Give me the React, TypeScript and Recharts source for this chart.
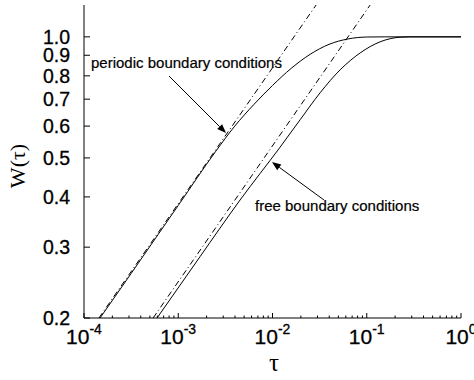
import React from 'react';
import { LineChart, Line, XAxis, YAxis, Customized } from 'recharts';

// tau / W(tau)
const periodicSolid = [
  { t: 1.48e-4, w: 0.2 },
  { t: 3.16e-4, w: 0.258 },
  { t: 1.0e-3, w: 0.381 },
  { t: 2.51e-3, w: 0.52 },
  { t: 3.98e-3, w: 0.6 },
  { t: 6.31e-3, w: 0.678 },
  { t: 0.01, w: 0.757 },
  { t: 0.0158, w: 0.835 },
  { t: 0.0251, w: 0.905 },
  { t: 0.0398, w: 0.958 },
  { t: 0.0631, w: 0.988 },
  { t: 0.1, w: 0.999 },
  { t: 0.158, w: 1.0 },
  { t: 1, w: 1.0 },
];
const periodicFit = [
  { t: 1.44e-4, w: 0.2 },
  { t: 0.029, w: 1.2 },
];
const freeSolid = [
  { t: 5.96e-4, w: 0.2 },
  { t: 1.7e-3, w: 0.284 },
  { t: 4.53e-3, w: 0.393 },
  { t: 0.01205, w: 0.532 },
  { t: 0.01963, w: 0.622 },
  { t: 0.032, w: 0.726 },
  { t: 0.0522, w: 0.828 },
  { t: 0.0851, w: 0.912 },
  { t: 0.1387, w: 0.972 },
  { t: 0.2264, w: 0.998 },
  { t: 0.289, w: 1.0 },
  { t: 1, w: 1.0 },
];
const freeFit = [
  { t: 5.41e-4, w: 0.2 },
  { t: 0.1086, w: 1.2 },
];

const xMajorTicks = [1e-4, 1e-3, 1e-2, 1e-1, 1];
const xMajorExp = ['-4', '-3', '-2', '-1', '0'];
const xMinorTicks = [
  2e-4, 3e-4, 4e-4, 5e-4, 6e-4, 7e-4, 8e-4, 9e-4,
  2e-3, 3e-3, 4e-3, 5e-3, 6e-3, 7e-3, 8e-3, 9e-3,
  2e-2, 3e-2, 4e-2, 5e-2, 6e-2, 7e-2, 8e-2, 9e-2,
  0.2, 0.3, 0.4, 0.5, 0.6, 0.7, 0.8, 0.9,
];
const yTicks = [0.2, 0.3, 0.4, 0.5, 0.6, 0.7, 0.8, 0.9, 1.0];
const yTickLabels = ['0.2', '0.3', '0.4', '0.5', '0.6', '0.7', '0.8', '0.9', '1.0'];

const allXTicks = [...xMajorTicks, ...xMinorTicks].sort((a, b) => a - b);
const SANS = '"Liberation Sans", Arial, Helvetica, sans-serif';
const SERIF = '"Liberation Serif", "Times New Roman", serif';

const majorIndex = (v: number) => xMajorTicks.findIndex((m) => Math.abs(m - v) / m < 1e-6);

const BottomTick = (props: any) => {
  const { x, y, payload } = props;
  const i = majorIndex(payload.value);
  const major = i >= 0;
  return (
    <g>
      <line x1={x} x2={x} y1={y} y2={y - (major ? 5 : 2.5)} stroke="#000" strokeWidth={1} />
      {major && (
        <text x={x} y={y + 26} textAnchor="middle" fontFamily={SANS} fill="#000" stroke="#000" strokeWidth={0.3}>
          <tspan fontSize={21}>10</tspan>
          <tspan fontSize={14} dy={-10}>{xMajorExp[i]}</tspan>
        </text>
      )}
    </g>
  );
};

const TopTick = (props: any) => {
  const { x, y, payload } = props;
  const major = majorIndex(payload.value) >= 0;
  return <line x1={x} x2={x} y1={y} y2={y + (major ? 5 : 2.5)} stroke="#000" strokeWidth={1} />;
};

const LeftTick = (props: any) => {
  const { x, y, payload, index } = props;
  const i = yTicks.findIndex((v) => Math.abs(v - payload.value) < 1e-6);
  return (
    <g>
      <line x1={x} x2={x + 6} y1={y} y2={y} stroke="#000" strokeWidth={1} />
      <text x={x - 14} y={y} dy="0.36em" textAnchor="end" fontSize={19.5} fontFamily={SANS} fill="#000" stroke="#000" strokeWidth={0.3}>
        {yTickLabels[i >= 0 ? i : index]}
      </text>
    </g>
  );
};

const RightTick = (props: any) => {
  const { x, y } = props;
  return <line x1={x} x2={x - 5} y1={y} y2={y} stroke="#000" strokeWidth={1} />;
};

const Arrow = ({ x1, y1, x2, y2 }: { x1: number; y1: number; x2: number; y2: number }) => {
  const a = Math.atan2(y2 - y1, x2 - x1);
  const L = 9;
  const W = 3.5;
  const bx = x2 - L * Math.cos(a);
  const by = y2 - L * Math.sin(a);
  const px = -Math.sin(a) * W;
  const py = Math.cos(a) * W;
  return (
    <g>
      <line x1={x1} y1={y1} x2={bx} y2={by} stroke="#000" strokeWidth={1} />
      <polygon points={`${x2},${y2} ${bx + px},${by + py} ${bx - px},${by - py}`} fill="#000" />
    </g>
  );
};

const Annotations = () => (
  <g>
    <text x={91} y={68} fontSize={15} fontFamily={SANS} fill="#000" stroke="#000" strokeWidth={0.2}>periodic boundary conditions</text>
    <Arrow x1={169} y1={76} x2={226} y2={133} />
    <text x={255} y={211} fontSize={15} fontFamily={SANS} fill="#000" stroke="#000" strokeWidth={0.2}>free boundary conditions</text>
    <Arrow x1={324} y1={200} x2={272} y2={162} />
    <text x={17} y={166} transform="rotate(-90 17 166)" textAnchor="middle" dy="0.35em" fontSize={22} fontFamily={SERIF} fill="#000">W(τ)</text>
    <text x={274} y={371} textAnchor="middle" fontSize={25} fontFamily={SERIF} fill="#000">τ</text>
  </g>
);

export default function App() {
  return (
    <div style={{ position: 'absolute', left: 0, top: 0, background: '#fff' }}>
      <LineChart width={474} height={380} margin={{ top: 5, right: 13, bottom: 0, left: 0 }}>
        <XAxis
          dataKey="t"
          type="number"
          scale="log"
          domain={[1e-4, 1]}
          allowDataOverflow
          ticks={allXTicks}
          interval={0}
          tickSize={0}
          tickMargin={0}
          tick={<BottomTick />}
          height={62}
          axisLine={{ stroke: '#000', strokeWidth: 1 }}
          tickLine={false}
        />
        <XAxis
          xAxisId="top"
          orientation="top"
          dataKey="t"
          type="number"
          scale="log"
          domain={[1e-4, 1]}
          allowDataOverflow
          ticks={allXTicks}
          interval={0}
          tickSize={0}
          tickMargin={0}
          tick={<TopTick />}
          height={0}
          axisLine={{ stroke: '#000', strokeWidth: 1 }}
          tickLine={false}
        />
        <YAxis
          type="number"
          scale="log"
          domain={[0.2, 1.2]}
          allowDataOverflow
          ticks={yTicks}
          interval={0}
          tickSize={0}
          tickMargin={0}
          tick={<LeftTick />}
          width={84}
          axisLine={{ stroke: '#000', strokeWidth: 1 }}
          tickLine={false}
        />
        <YAxis
          yAxisId="right"
          orientation="right"
          type="number"
          scale="log"
          domain={[0.2, 1.2]}
          allowDataOverflow
          ticks={yTicks}
          interval={0}
          tickSize={0}
          tickMargin={0}
          tick={<RightTick />}
          width={0}
          axisLine={{ stroke: '#000', strokeWidth: 1 }}
          tickLine={false}
        />
        <Line data={periodicFit} dataKey="w" type="linear" stroke="#000" strokeWidth={1} strokeDasharray="6 3 1 3" dot={false} isAnimationActive={false} />
        <Line data={freeFit} dataKey="w" type="linear" stroke="#000" strokeWidth={1} strokeDasharray="6 3 1 3" dot={false} isAnimationActive={false} />
        <Line data={periodicSolid} dataKey="w" type="monotone" stroke="#000" strokeWidth={1} dot={false} isAnimationActive={false} />
        <Line data={freeSolid} dataKey="w" type="monotone" stroke="#000" strokeWidth={1} dot={false} isAnimationActive={false} />
        <Customized component={<Annotations />} />
      </LineChart>
    </div>
  );
}
